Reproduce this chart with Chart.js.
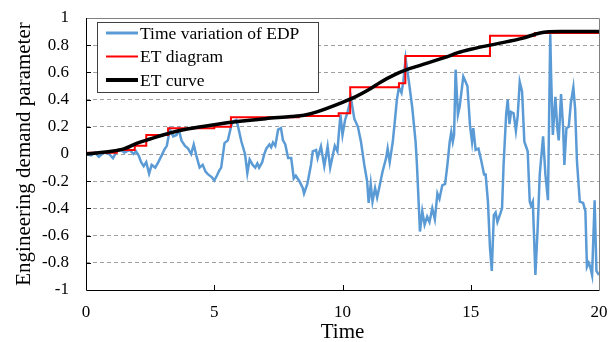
<!DOCTYPE html>
<html>
<head>
<meta charset="utf-8">
<script src="https://cdn.jsdelivr.net/npm/chart.js@4"></script>
<style>
  html, body { margin: 0; padding: 0; background: #fff; }
  #wrap { width: 616px; height: 342px; }
</style>
</head>
<body>
<div id="wrap"><canvas id="edpChart" width="616" height="342"></canvas></div>
<script>
// Time variation of EDP
const edpTime = [0, 0.2, 0.35, 0.5, 0.7, 0.9, 1.05, 1.2, 1.35, 1.5, 1.7, 1.85, 1.95, 2.05, 2.15, 2.25, 2.35, 2.46, 2.56, 2.7,
  2.82, 2.95, 3.05, 3.15, 3.27, 3.4, 3.53, 3.62, 3.72, 3.86, 3.98, 4.1, 4.2, 4.3, 4.43, 4.55, 4.66, 4.76, 4.9, 5.0,
  5.1, 5.2, 5.27, 5.4, 5.53, 5.64, 5.73, 5.86, 5.93, 6.06, 6.2, 6.29, 6.38, 6.5, 6.6, 6.68, 6.75, 6.87, 6.95, 7.03,
  7.15, 7.22, 7.29, 7.38, 7.49, 7.6, 7.68, 7.77, 7.88, 8.0, 8.1, 8.18, 8.32, 8.45, 8.5, 8.63, 8.77, 8.84, 8.97, 9.03,
  9.16, 9.29, 9.42, 9.52, 9.6, 9.7, 9.8, 9.92, 10.0, 10.1, 10.2, 10.33, 10.46, 10.6, 10.72, 10.85, 10.96, 11.02, 11.1, 11.17,
  11.27, 11.35, 11.43, 11.56, 11.7, 11.76, 11.84, 11.96, 12.05, 12.12, 12.2, 12.3, 12.37, 12.46, 12.59, 12.72, 12.85, 12.9, 13.02, 13.11,
  13.2, 13.3, 13.39, 13.5, 13.6, 13.7, 13.78, 13.89, 14.0, 14.09, 14.18, 14.24, 14.3, 14.35, 14.41, 14.5, 14.57, 14.71, 14.87, 14.97,
  15.05, 15.1, 15.19, 15.3, 15.41, 15.52, 15.58, 15.67, 15.75, 15.82, 15.9, 15.97, 16.04, 16.15, 16.22, 16.28, 16.38, 16.44, 16.51, 16.57,
  16.67, 16.76, 16.83, 16.91, 17.0, 17.09, 17.22, 17.3, 17.35, 17.42, 17.52, 17.61, 17.69, 17.82, 17.91, 18.01, 18.1, 18.13, 18.2, 18.3,
  18.37, 18.43, 18.52, 18.6, 18.65, 18.73, 18.82, 18.9, 19.0, 19.07, 19.14, 19.25, 19.38, 19.47, 19.53, 19.6, 19.66, 19.73, 19.83, 19.9, 20.0];
const edpValue = [0, -0.01, 0.01, -0.02, 0.01, 0.0, -0.03, 0.02, 0.03, 0.01, 0.03, 0.0, 0.02, -0.01, -0.06, -0.09, -0.06, -0.145, -0.08, -0.1,
  -0.06, -0.01, 0.03, 0.06, 0.18, 0.13, 0.14, 0.18, 0.1, 0.06, 0.04, 0.0, 0.07, -0.01, -0.1, -0.08, -0.13, -0.15, -0.17, -0.195,
  -0.16, -0.12, -0.1, 0.08, 0.1, 0.19, 0.24, 0.25, 0.2, 0.09, 0.0, -0.14, -0.04, -0.08, -0.1, -0.07, -0.1, -0.06, 0.0, 0.04,
  0.07, 0.05, 0.085, 0.06, 0.18, 0.19, 0.1, 0.07, -0.03, -0.03, -0.18, -0.16, -0.2, -0.25, -0.29, -0.22, -0.08, 0.02, 0.03, -0.03,
  0.056, -0.09, 0.056, -0.1, -0.03, 0.06, 0.02, 0.29, 0.14, 0.25, 0.31, 0.41, 0.26, 0.2, 0.09, -0.08, -0.2, -0.36, -0.22, -0.35,
  -0.25, -0.32, -0.25, -0.13, -0.03, 0.04, -0.06, 0.09, 0.26, 0.4, 0.49, 0.45, 0.53, 0.7, 0.53, 0.34, 0.09, -0.07, -0.57, -0.42,
  -0.52, -0.46, -0.5, -0.4, -0.48, -0.29, -0.33, -0.23, -0.22, -0.08, 0.09, 0.16, 0.09, 0.14, 0.62, 0.29, 0.35, 0.57, 0.5, 0.21,
  0.09, 0.19, 0.03, 0.04, -0.05, -0.15, -0.15, -0.35, -0.69, -0.86, -0.45, -0.43, -0.5, -0.44, -0.4, -0.08, 0.29, 0.4, 0.22, 0.31,
  0.3, 0.17, 0.28, 0.53, 0.46, 0.09, 0.02, -0.35, -0.38, -0.35, -0.89, -0.54, -0.15, 0.13, -0.15, -0.34, 0.88, 0.6, 0.14, 0.42,
  0.2, 0.1, 0.44, 0.2, -0.08, 0.19, 0.2, 0.37, 0.49, 0.33, -0.05, -0.35, -0.36, -0.42, -0.83, -0.8, -0.83, -0.89, -0.34, -0.86, -0.89];

// ET diagram (step function, value holds from each time onward)
const etDiagramTime = [0, 1.2, 1.9, 2.35, 3.2, 5.0, 5.65, 8.3, 9.85, 10.3, 12.2, 12.45, 15.75, 17.5, 20];
const etDiagramValue = [0.01, 0.03, 0.06, 0.14, 0.19, 0.2, 0.27, 0.28, 0.3, 0.49, 0.52, 0.72, 0.87, 0.89, 0.89];

// ET curve
const etCurveTime = [0, 0.5, 1, 1.5, 2, 2.5, 3, 3.5, 4, 5, 6, 7, 8, 8.5, 9, 10, 10.5, 11, 11.5, 12,
  12.5, 13, 14, 14.5, 15, 16, 17, 17.7, 18.5, 20];
const etCurveValue = [0, 0.01, 0.02, 0.04, 0.08, 0.11, 0.14, 0.165, 0.185, 0.215, 0.24, 0.26, 0.275, 0.285, 0.31, 0.38, 0.42, 0.47, 0.53, 0.58,
  0.62, 0.65, 0.71, 0.745, 0.77, 0.81, 0.85, 0.89, 0.9, 0.9];

const seriesLabels = ['Time variation of EDP', 'ET diagram', 'ET curve'];
const xTicks = [0, 5, 10, 15, 20];
const yTicks = [-1, -0.8, -0.6, -0.4, -0.2, 0, 0.2, 0.4, 0.6, 0.8, 1];

const toPoints = (xs, ys) => xs.map((x, i) => ({ x: x, y: ys[i] }));
const serif = "'Liberation Serif', 'DejaVu Serif', serif";

// no extra room for half labels, the layout padding decides the plot box
const noPad = s => {
    s.paddingTop = 0; s.paddingBottom = 0; s.paddingLeft = 0; s.paddingRight = 0;
};

// frame, inward ticks and boxed legend, drawn over the plot
const framePlugin = {
    id: 'frame',
    afterDraw(chart) {
        const ctx = chart.ctx;
        const a = chart.chartArea;
        const xs = chart.scales.x, ys = chart.scales.y;
        ctx.save();
        ctx.lineWidth = 1;
        ctx.strokeStyle = '#808080';
        ctx.beginPath();
        ctx.moveTo(a.left, a.top + 0.5);
        ctx.lineTo(a.right + 0.5, a.top + 0.5);
        ctx.lineTo(a.right + 0.5, a.bottom);
        ctx.stroke();
        ctx.strokeStyle = '#000';
        ctx.beginPath();
        ctx.moveTo(a.left + 0.5, a.top);
        ctx.lineTo(a.left + 0.5, a.bottom + 0.5);
        ctx.lineTo(a.right + 0.5, a.bottom + 0.5);
        ctx.stroke();
        ctx.beginPath();
        xTicks.slice(1, -1).forEach(v => {
            const px = Math.round(xs.getPixelForValue(v)) + 0.5;
            ctx.moveTo(px, a.bottom);
            ctx.lineTo(px, a.bottom - 5);
        });
        yTicks.slice(1, -1).forEach(v => {
            const py = Math.round(ys.getPixelForValue(v)) + 0.5;
            ctx.moveTo(a.left, py);
            ctx.lineTo(a.left + 5, py);
        });
        ctx.stroke();

        // legend
        const bx = a.left + 11, by = a.top + 4, bw = 221, bh = 70;
        ctx.fillStyle = '#fff';
        ctx.fillRect(bx, by, bw, bh);
        ctx.strokeStyle = '#404040';
        ctx.strokeRect(bx + 0.5, by + 0.5, bw, bh);
        ctx.font = '17.5px ' + serif;
        ctx.textBaseline = 'middle';
        chart.data.datasets.forEach((ds, i) => {
            const ry = by + 11 + i * 23.5;
            ctx.strokeStyle = ds.borderColor;
            ctx.lineWidth = ds.legendWidth;
            ctx.beginPath();
            ctx.moveTo(bx + 9, ry);
            ctx.lineTo(bx + 41, ry);
            ctx.stroke();
            ctx.fillStyle = '#000';
            ctx.fillText(ds.label, bx + 43, ry + 1);
        });
        ctx.restore();
    }
};

const config = {
    type: 'line',
    data: {
        datasets: [{
            label: seriesLabels[0],
            data: toPoints(edpTime, edpValue),
            borderColor: '#5b9bd5',
            borderWidth: 2.5,
            legendWidth: 3,
            pointRadius: 0,
            tension: 0,
            order: 3
        }, {
            label: seriesLabels[1],
            data: toPoints(etDiagramTime, etDiagramValue),
            borderColor: '#ff0000',
            borderWidth: 2,
            legendWidth: 2,
            pointRadius: 0,
            stepped: 'before',
            order: 2
        }, {
            label: seriesLabels[2],
            data: toPoints(etCurveTime, etCurveValue),
            borderColor: '#000000',
            borderWidth: 3.5,
            legendWidth: 4,
            pointRadius: 0,
            cubicInterpolationMode: 'monotone',
            order: 1
        }]
    },
    options: {
        responsive: false,
        animation: false,
        layout: { padding: { top: 18, right: 17, left: 0, bottom: 0 } },
        plugins: {
            legend: { display: false },
            tooltip: { enabled: false }
        },
        scales: {
            x: {
                type: 'linear',
                min: 0,
                max: 20,
                afterFit: s => { s.height = 52; noPad(s); },
                afterBuildTicks: s => { s.ticks = xTicks.map(v => ({ value: v })); },
                grid: { display: false, drawTicks: false },
                border: { display: false },
                ticks: { color: '#000', padding: 12, maxRotation: 0, font: { family: serif, size: 17 } },
                title: {
                    display: true,
                    text: 'Time',
                    color: '#000',
                    padding: { top: 0, bottom: 0 },
                    font: { family: serif, size: 21, lineHeight: 0.86 }
                }
            },
            y: {
                min: -1,
                max: 1,
                afterFit: s => { s.width = 86; noPad(s); },
                afterBuildTicks: s => { s.ticks = yTicks.map(v => ({ value: v })); },
                grid: {
                    drawTicks: false,
                    color: c => (c.tick && Math.abs(c.tick.value) < 0.99 ? '#a0a0a0' : 'rgba(0,0,0,0)'),
                    lineWidth: 1
                },
                border: { display: false, dash: [4, 3] },
                ticks: {
                    color: '#000',
                    padding: 17,
                    font: { family: serif, size: 17 },
                    callback: v => String(Number(v.toFixed(1)))
                },
                title: {
                    display: true,
                    text: 'Engineering demand parameter',
                    color: '#000',
                    padding: { top: 12, bottom: 0 },
                    font: { family: serif, size: 21 }
                }
            }
        }
    },
    plugins: [framePlugin]
};

const edpChart = new Chart(document.getElementById('edpChart'), config);
</script>
</body>
</html>
